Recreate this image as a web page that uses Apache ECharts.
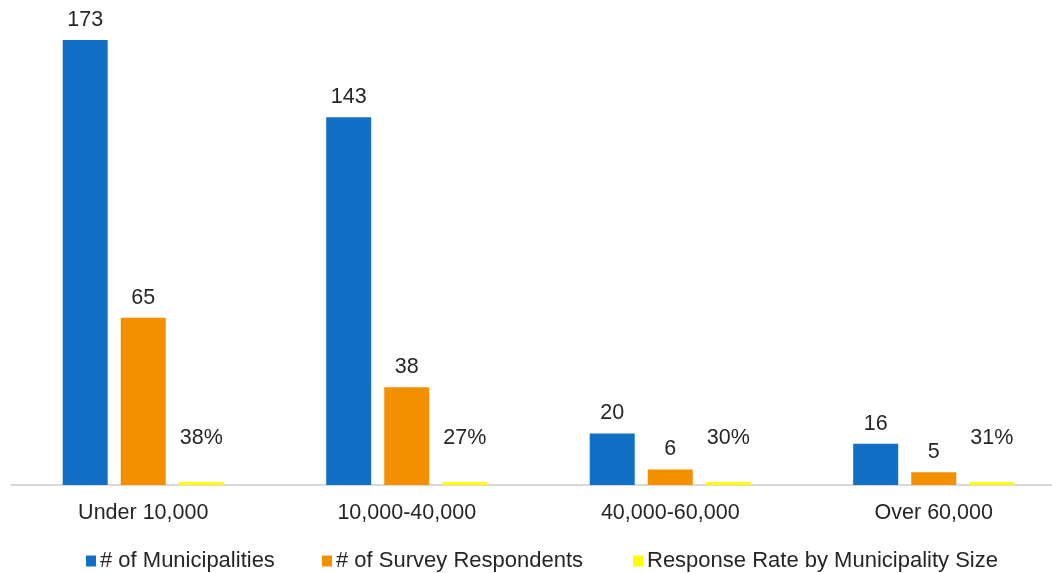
<!DOCTYPE html>
<html>
<head>
<meta charset="utf-8">
<script src="https://cdn.jsdelivr.net/npm/echarts@6/dist/echarts.min.js"></script>
<style>
  html, body { margin: 0; padding: 0; background: #fff; overflow: hidden; }
  /* plot area runs slightly past the right edge of the page */
  #chart { width: 1070px; height: 573px; }
</style>
</head>
<body>
<div id="chart"></div>
<script>
// Municipality size bands
const categories = ['Under 10,000', '10,000-40,000', '40,000-60,000', 'Over 60,000'];
// Counts per band
const municipalities = [173, 143, 20, 16];
const respondents = [65, 38, 6, 5];
// Response rate as a fraction of municipalities
const responseRate = [0.38, 0.27, 0.30, 0.31];

const seriesNames = ['# of Municipalities', '# of Survey Respondents', 'Response Rate by Municipality Size'];
const colors = ['#116fc5', '#f39000', '#ffff00'];

const font = 'Liberation Sans, Arial, sans-serif';
const textColor = '#262626';

const chart = echarts.init(document.getElementById('chart'), null, { renderer: 'canvas' });

const baseLabel = {
  show: true,
  position: 'top',
  distance: 9,
  fontFamily: font,
  fontSize: 21.5,
  color: textColor
};

// One legend block per series so each entry sits at its own column
const legendLefts = [81, 317, 628];
const legends = seriesNames.map((name, i) => ({
  data: [name],
  left: legendLefts[i],
  bottom: -4,
  itemWidth: 10,
  itemHeight: 11,
  icon: 'rect',
  textStyle: { fontFamily: font, fontSize: 22, color: textColor, padding: [0, 0, 0, -1] }
}));

chart.setOption({
  animation: false,
  color: colors,
  grid: { left: 11.5, right: 4.5, top: 22, bottom: 88, containLabel: false },
  legend: legends,
  xAxis: {
    type: 'category',
    data: categories,
    axisLine: { lineStyle: { color: '#d9d9d9', width: 2 } },
    axisTick: { show: false },
    axisLabel: { fontFamily: font, fontSize: 21.5, color: textColor, margin: 17 }
  },
  yAxis: {
    type: 'value',
    min: 0,
    max: 180,
    show: false,
    splitLine: { show: false }
  },
  series: [
    {
      name: seriesNames[0],
      type: 'bar',
      data: municipalities,
      barWidth: 45,
      barGap: '29%',
      barCategoryGap: '39%',
      label: baseLabel
    },
    {
      name: seriesNames[1],
      type: 'bar',
      data: respondents,
      barWidth: 45,
      label: baseLabel
    },
    {
      name: seriesNames[2],
      type: 'bar',
      data: responseRate,
      barWidth: 45,
      barMinHeight: 3,
      label: Object.assign({}, baseLabel, {
        offset: [0, -24],
        formatter: p => Math.round(p.value * 100) + '%'
      })
    }
  ]
});
</script>
</body>
</html>
